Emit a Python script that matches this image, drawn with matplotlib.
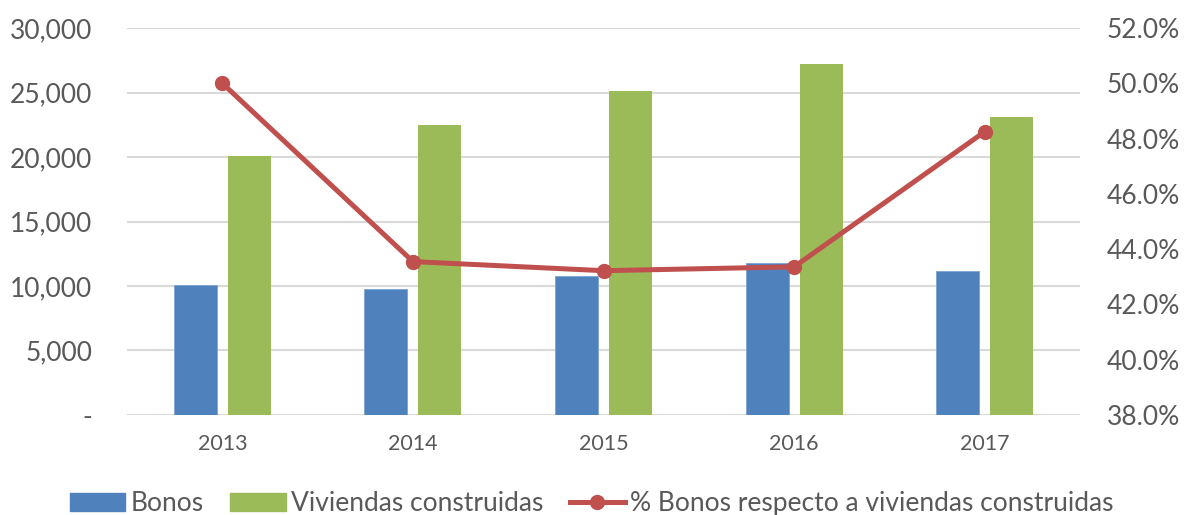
import matplotlib.pyplot as plt
import matplotlib.ticker as mticker
from matplotlib.patches import Patch
from matplotlib.lines import Line2D
import numpy as np

# Data
years = ['2013', '2014', '2015', '2016', '2017']
bonos = [10050, 9800, 10800, 11750, 11140]
viviendas = [20100, 22450, 25100, 27230, 23100]
porcentaje = [50.0, 43.55, 43.22, 43.36, 48.25]

left_ticks = [0, 5000, 10000, 15000, 20000, 25000, 30000]
right_ticks = [38, 40, 42, 44, 46, 48, 50, 52]

blue = '#4f81bd'
green = '#9bbb59'
red = '#c0504d'
grey_txt = '#595959'
grid_col = '#d9d9d9'

plt.rcParams['font.family'] = ['Lato', 'DejaVu Sans']

fig = plt.figure(figsize=(11.84, 5.15), dpi=100)
ax = fig.add_axes([0.1073, 0.1942, 0.8049, 0.7514])

x = np.arange(len(years))
w = 0.226
off = 0.1417

ax.bar(x - off, bonos, w, color=blue, edgecolor='#7da3d3', linewidth=0.6, zorder=2)
ax.bar(x + off, viviendas, w, color=green, zorder=2)

ax.set_xlim(-0.5, len(years) - 0.5)
ax.set_ylim(0, 30000)
ax.set_yticks(left_ticks)
ax.yaxis.set_major_formatter(mticker.FuncFormatter(
    lambda v, p: '-' if v == 0 else '{:,.0f}'.format(v)))
ax.set_xticks(x)
ax.set_xticklabels(years)
ax.grid(axis='y', color=grid_col, linewidth=1.5, zorder=0)
ax.set_axisbelow(True)
for s in ax.spines.values():
    s.set_visible(False)
ax.tick_params(axis='y', length=0, pad=25, labelsize=19, labelcolor=grey_txt)
ax.tick_params(axis='x', length=0, pad=14, labelsize=15.5, labelcolor=grey_txt)

ax2 = ax.twinx()
ax2.plot(x, porcentaje, color=red, linewidth=3.6, marker='o', markersize=10,
         solid_capstyle='round', zorder=3)
ax2.set_ylim(38, 52)
ax2.set_yticks(right_ticks)
ax2.yaxis.set_major_formatter(mticker.FuncFormatter(lambda v, p: '{:.1f}%'.format(v)))
for s in ax2.spines.values():
    s.set_visible(False)
ax2.tick_params(axis='y', length=0, pad=19, labelsize=19, labelcolor=grey_txt)

handles = [Patch(color=blue), Patch(color=green),
           Line2D([], [], color=red, linewidth=3.6, marker='o', markersize=10)]
labels = ['Bonos', 'Viviendas construidas', '% Bonos respecto a viviendas construidas']
leg = fig.legend(handles, labels, loc='center', bbox_to_anchor=(0.5, 0.022),
                 ncol=3, frameon=False, fontsize=19, handlelength=2.1,
                 handleheight=0.7, handletextpad=0.2, columnspacing=1.0,
                 borderaxespad=0, borderpad=0)
for t in leg.get_texts():
    t.set_color(grey_txt)

fig.savefig('out.png', dpi=100)
